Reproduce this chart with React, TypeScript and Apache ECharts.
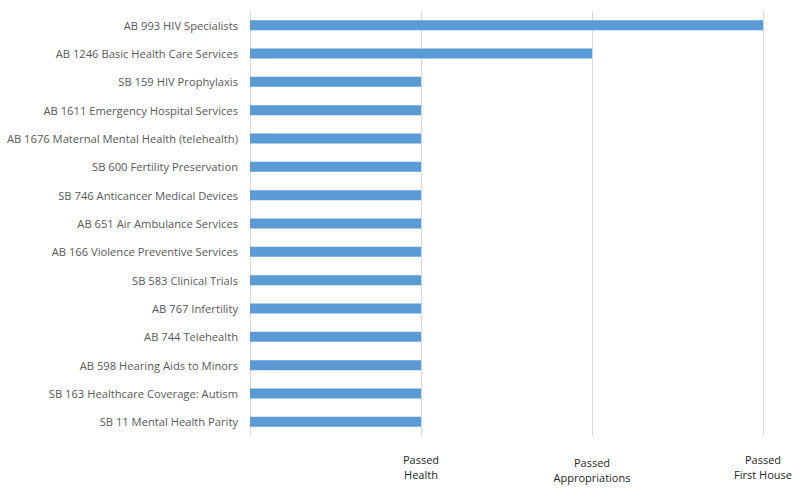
import React, { useEffect, useRef } from "react";
import * as echarts from "echarts";

const bills = [
  "AB 993 HIV Specialists",
  "AB 1246 Basic Health Care Services",
  "SB 159 HIV Prophylaxis",
  "AB 1611 Emergency Hospital Services",
  "AB 1676 Maternal Mental Health (telehealth)",
  "SB 600 Fertility Preservation",
  "SB 746 Anticancer Medical Devices",
  "AB 651 Air Ambulance Services",
  "AB 166 Violence Preventive Services",
  "SB 583 Clinical Trials",
  "AB 767 Infertility",
  "AB 744 Telehealth",
  "AB 598 Hearing Aids to Minors",
  "SB 163 Healthcare Coverage: Autism",
  "SB 11 Mental Health Parity",
];

const stageValues = [3, 2, 1, 1, 1, 1, 1, 1, 1, 1, 1, 1, 1, 1, 1];

const stageLabels = ["", "Passed\nHealth", "Passed\nAppropriations", "Passed\nFirst House"];

export default function App() {
  const ref = useRef<HTMLDivElement>(null);
  useEffect(() => {
    if (!ref.current) return;
    const chart = echarts.init(ref.current, null, { renderer: "svg" });
    chart.setOption({
      animation: false,
      backgroundColor: "#ffffff",
      grid: { left: 250, right: 37, top: 11, bottom: 58, containLabel: false },
      xAxis: {
        type: "value",
        min: 0,
        max: 3,
        interval: 1,
        axisLine: { show: false },
        axisTick: { show: false },
        splitLine: { show: true, lineStyle: { color: "#D9D9D9", width: 1 } },
        axisLabel: {
          margin: 16,
          color: "#262626",
          fontFamily: "Open Sans",
          fontSize: 11,
          lineHeight: 15,
          formatter: (v: number) => {
            const s = stageLabels[Math.round(v)] || "";
            if (Math.round(v) === 2) {
              return s
                .split("\n")
                .map((l, i) => (i === 0 ? "{d|" + l + "}" : "{n|" + l + "}"))
                .join("\n");
            }
            return s;
          },
          rich: {
            d: { padding: [3, 0, 0, 0], fontFamily: "Open Sans", fontSize: 11, color: "#262626", lineHeight: 18 },
            n: { fontFamily: "Open Sans", fontSize: 11, color: "#262626", lineHeight: 15 },
          },
        },
      },
      yAxis: {
        type: "category",
        data: bills,
        inverse: true,
        axisLine: { show: true, lineStyle: { color: "#D9D9D9", width: 1 } },
        axisTick: { show: false },
        splitLine: { show: false },
        axisLabel: {
          margin: 12,
          color: "#595959",
          fontFamily: "Open Sans",
          fontSize: 11.2,
        },
      },
      series: [
        {
          type: "bar",
          data: stageValues,
          barWidth: 10,
          itemStyle: { color: "#5B9BD5" },
        },
      ],
    });
    return () => chart.dispose();
  }, []);
  return <div ref={ref} style={{ width: 800, height: 494, position: "absolute", left: 0, top: 0 }} />;
}
